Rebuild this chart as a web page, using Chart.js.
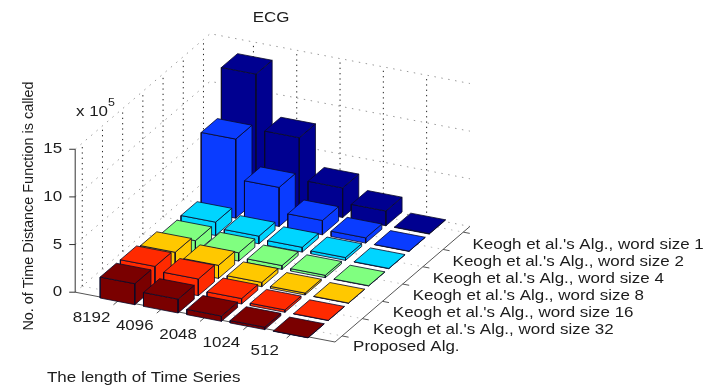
<!DOCTYPE html>
<html>
<head>
<meta charset="utf-8">
<title>ECG</title>
<script src="https://cdn.jsdelivr.net/npm/chart.js@4"></script>
<style>
    html, body { margin: 0; padding: 0; background: #fff; }
    canvas { display: block; filter: blur(0.4px); }
</style>
</head>
<body>
<canvas id="grafico" width="708" height="386"></canvas>
<script>
// values in units of 10^5, one list per algorithm, ordered like lengths
const lengths = ['8192', '4096', '2048', '1024', '512'];
const seriesNames = [
    'Proposed Alg.',
    "Keogh et al.'s Alg., word size 32",
    "Keogh et al.'s Alg., word size 16",
    "Keogh et al.'s Alg., word size 8",
    "Keogh et al.'s Alg., word size 4",
    "Keogh et al.'s Alg., word size 2",
    "Keogh et al.'s Alg., word size 1"
];
const proposed = [2.2, 1.45, 0.55, 0.25, 0.03];
const wordSize32 = [2.2, 1.75, 0.57, 0.25, 0.03];
const wordSize16 = [1.87, 1.37, 0.45, 0.2, 0.03];
const wordSize8 = [1.27, 0.87, 0.4, 0.25, 0.03];
const wordSize4 = [1.4, 0.8, 0.5, 0.3, 0.03];
const wordSize2 = [8.3, 4.1, 1.5, 0.55, 0.03];
const wordSize1 = [13.3, 7.5, 3.1, 1.55, 0.05];
const allSeries = [proposed, wordSize32, wordSize16, wordSize8, wordSize4, wordSize2, wordSize1];
const seriesColors = ['#7a0000', '#ff2a00', '#ffc800', '#80ff80', '#00d5ff', '#0a3cff', '#000090'];
const zTicks = [0, 5, 10, 15];

// view of the 3D box on the page
const corner = { x: 335, y: 342 };
const perLength = { x: 43.3, y: 8.3 };
const perSeries = { x: 20.2, y: -17.3 };
const perUnit = 9.53;
const xRange = [0, 6];
const yRange = [0.65, 7.33];
const zMax = 15;
const barHalf = 0.4;

const project = (i, s, z) => ({
    x: corner.x + (i - xRange[1]) * perLength.x + (s - yRange[0]) * perSeries.x,
    y: corner.y + (i - xRange[1]) * perLength.y + (s - yRange[0]) * perSeries.y - z * perUnit
});

const polyline = (points, color, dash, width) => ({
    data: points,
    showLine: true,
    borderColor: color,
    borderWidth: width || 1,
    borderDash: dash || [],
    pointRadius: 0,
    tension: 0,
    fill: false
});

const face = (points, color) => ({
    data: [...points, points[0]],
    showLine: true,
    borderColor: 'rgba(10, 10, 40, 0.8)',
    borderWidth: 1,
    backgroundColor: color,
    pointRadius: 0,
    tension: 0,
    fill: 'shape'
});

const datasets = [];
const dotsDark = [1.3, 4];
const dotsLight = [1.5, 5.5];

// floor and wall grids
for (let i = 1; i <= lengths.length; i++) {
    datasets.push(polyline([project(i, yRange[0], 0), project(i, yRange[1], 0)], '#bbb', dotsLight));
    datasets.push(polyline([project(i, yRange[1], 0), project(i, yRange[1], zMax)], '#222', dotsDark));
}
for (let s = 1; s <= seriesNames.length; s++) {
    datasets.push(polyline([project(xRange[0], s, 0), project(xRange[1], s, 0)], '#bbb', dotsLight));
    datasets.push(polyline([project(xRange[0], s, 0), project(xRange[0], s, zMax)], '#222', dotsDark));
}
zTicks.forEach(z => {
    datasets.push(polyline([project(xRange[0], yRange[0], z), project(xRange[0], yRange[1], z), project(xRange[1], yRange[1], z)], '#999', dotsLight));
});

// axes and tick marks
datasets.push(polyline([project(xRange[0], yRange[0], 0), project(xRange[0], yRange[0], zMax)], '#333'));
datasets.push(polyline([project(xRange[0], yRange[0], 0), project(xRange[1], yRange[0], 0), project(xRange[1], yRange[1], 0)], '#555'));
zTicks.forEach(z => {
    const p = project(xRange[0], yRange[0], z);
    datasets.push(polyline([{ x: p.x - 6, y: p.y }, p], '#333'));
});
lengths.forEach((l, k) => {
    datasets.push(polyline([project(k + 1, yRange[0], 0), project(k + 1, yRange[0] - 0.25, 0)], '#555'));
});
seriesNames.forEach((n, k) => {
    datasets.push(polyline([project(xRange[1], k + 1, 0), project(xRange[1] + 0.15, k + 1, 0)], '#555'));
});

// bars, back row first and left to right so nearer ones paint over
for (let s = seriesNames.length; s >= 1; s--) {
    const values = allSeries[s - 1];
    const color = seriesColors[s - 1];
    values.forEach((v, k) => {
        const i = k + 1;
        const x0 = i - barHalf, x1 = i + barHalf, y0 = s - barHalf, y1 = s + barHalf;
        datasets.push(face([project(x0, y0, 0), project(x1, y0, 0), project(x1, y0, v), project(x0, y0, v)], color));
        datasets.push(face([project(x1, y0, 0), project(x1, y1, 0), project(x1, y1, v), project(x1, y0, v)], color));
        datasets.push(face([project(x0, y0, v), project(x1, y0, v), project(x1, y1, v), project(x0, y1, v)], color));
    });
}

// chart.js paints the first dataset last
datasets.reverse();

const drawText = (ctx, text, x, y, opts) => {
    const o = opts || {};
    ctx.save();
    ctx.translate(x, y);
    if (o.rotate) ctx.rotate(o.rotate);
    ctx.scale(o.stretch || 1, 1);
    ctx.font = (o.size || 15) + 'px "Liberation Sans", Arial, sans-serif';
    ctx.fillStyle = '#1c1c1c';
    ctx.textAlign = o.align || 'left';
    ctx.textBaseline = 'middle';
    ctx.fillText(text, 0, 0);
    ctx.restore();
};

const textPlugin = {
    id: 'textos',
    afterDraw(chart) {
        const ctx = chart.ctx;
        const stretch = 1.13;
        drawText(ctx, 'ECG', 271, 18, { align: 'center', stretch });
        drawText(ctx, 'The length of Time Series', 47, 378, { stretch });
        drawText(ctx, 'No. of Time Distance Function is called', 29, 206, { align: 'center', rotate: -Math.PI / 2, stretch: 0.96 });
        drawText(ctx, 'x 10', 76, 112, { stretch });
        drawText(ctx, '5', 108, 103, { size: 11, stretch });
        zTicks.forEach(z => {
            const p = project(xRange[0], yRange[0], z);
            drawText(ctx, String(z), p.x - 13, p.y, { align: 'right', stretch });
        });
        lengths.forEach((l, k) => {
            const p = project(k + 1, yRange[0], 0);
            drawText(ctx, l, p.x - 27, p.y + 17.5, { align: 'center', stretch });
        });
        seriesNames.forEach((n, k) => {
            const p = project(xRange[1], k + 1, 0);
            drawText(ctx, n, p.x + 11 - k * 0.3, p.y + 11 + k * 0.25, { stretch });
        });
    }
};

const chart = new Chart(document.getElementById('grafico').getContext('2d'), {
    type: 'scatter',
    data: { datasets },
    plugins: [textPlugin],
    options: {
        responsive: false,
        animation: false,
        layout: { padding: 0 },
        plugins: { legend: { display: false }, tooltip: { enabled: false } },
        scales: {
            x: { type: 'linear', min: 0, max: 708, display: false },
            y: { type: 'linear', min: 0, max: 386, reverse: true, display: false }
        }
    }
});
</script>
</body>
</html>
